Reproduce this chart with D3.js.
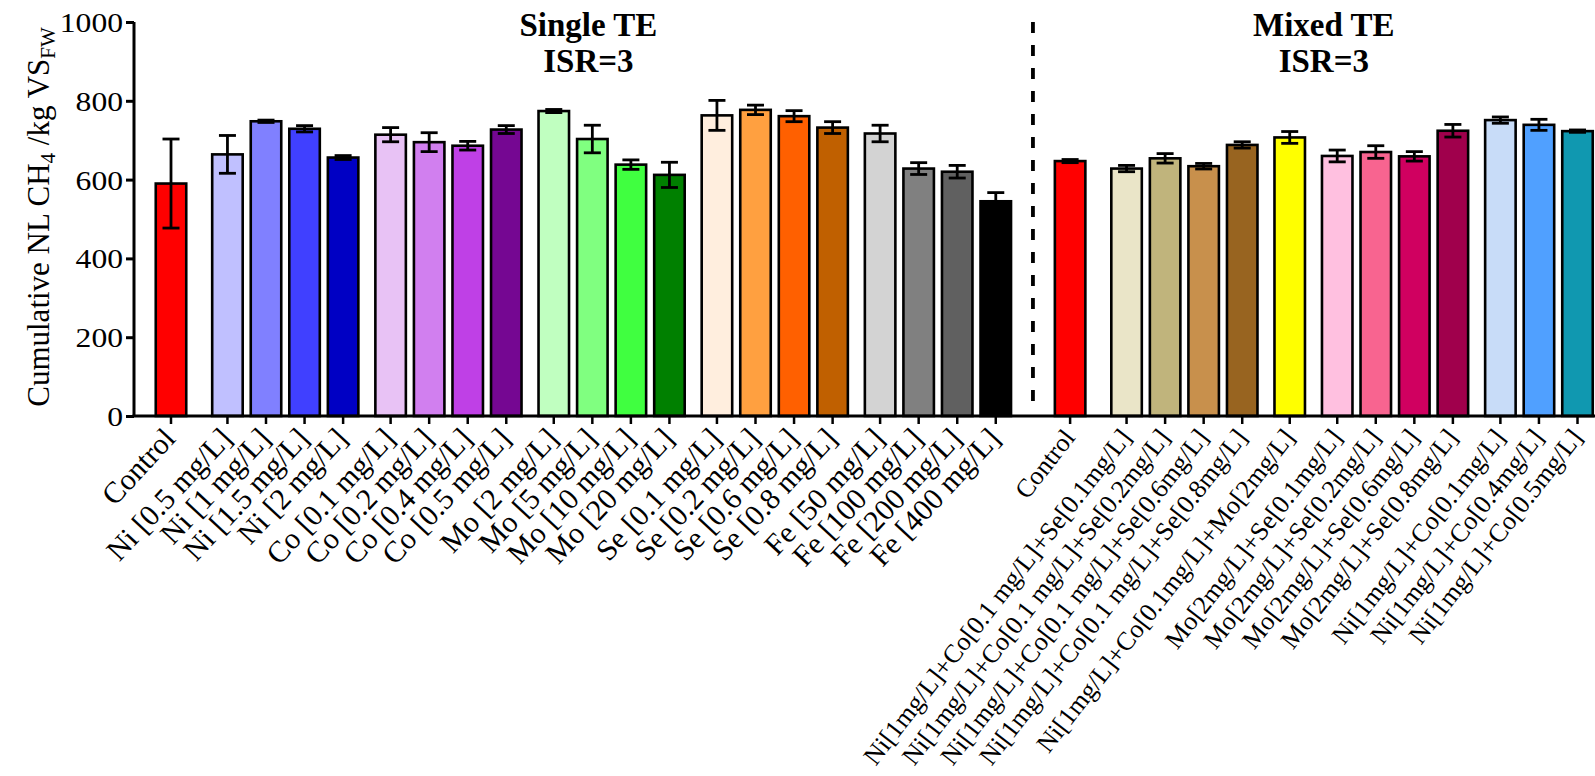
<!DOCTYPE html>
<html>
<head>
<meta charset="utf-8">
<script src="https://cdn.jsdelivr.net/npm/d3@7"></script>
<style>
  html, body { margin: 0; padding: 0; background: #fff; }
  svg { display: block; font-family: "Liberation Serif", "Times New Roman", serif; }
</style>
</head>
<body>
<svg id="chart" width="1595" height="776"></svg>
<script>
// ---------------- DATA ----------------
const categories = [
  "Control", "Ni [0.5 mg/L]", "Ni [1 mg/L]", "Ni [1.5 mg/L]", "Ni [2 mg/L]",
  "Co [0.1 mg/L]", "Co [0.2 mg/L]", "Co [0.4 mg/L]", "Co [0.5 mg/L]",
  "Mo [2 mg/L]", "Mo [5 mg/L]", "Mo [10 mg/L]", "Mo [20 mg/L]",
  "Se [0.1 mg/L]", "Se [0.2 mg/L]", "Se [0.6 mg/L]", "Se [0.8 mg/L]",
  "Fe [50 mg/L]", "Fe [100 mg/L]", "Fe [200 mg/L]", "Fe [400 mg/L]",
  "Control",
  "Ni[1mg/L]+Co[0.1 mg/L]+Se[0.1mg/L]", "Ni[1mg/L]+Co[0.1 mg/L]+Se[0.2mg/L]",
  "Ni[1mg/L]+Co[0.1 mg/L]+Se[0.6mg/L]", "Ni[1mg/L]+Co[0.1 mg/L]+Se[0.8mg/L]",
  "Ni[1mg/L]+Co[0.1mg/L]+Mo[2mg/L]",
  "Mo[2mg/L]+Se[0.1mg/L]", "Mo[2mg/L]+Se[0.2mg/L]", "Mo[2mg/L]+Se[0.6mg/L]", "Mo[2mg/L]+Se[0.8mg/L]",
  "Ni[1mg/L]+Co[0.1mg/L]", "Ni[1mg/L]+Co[0.4mg/L]", "Ni[1mg/L]+Co[0.5mg/L]"
];
const values = [
  590, 664, 748, 729, 656,
  714, 695, 686, 727,
  774, 703, 638, 612,
  763, 777, 761, 732,
  717, 628, 620, 545,
  647,
  628, 654, 634, 688,
  707,
  660, 670, 659, 724,
  751, 739, 723
];
const errors = [
  113, 48, 3, 8, 5,
  18, 24, 11, 10,
  4, 35, 12, 32,
  38, 12, 14, 15,
  21, 15, 16, 22,
  4,
  8, 12, 7, 8,
  15,
  15, 16, 12, 16,
  8, 14, 3
];
const colors = [
  "#FF0000", "#C0C0FF", "#8080FF", "#4040FF", "#0000C4",
  "#E8C2F5", "#D17FEF", "#BF40E6", "#750792",
  "#C0FFC0", "#80FF80", "#40FF40", "#008000",
  "#FFEEDE", "#FFA040", "#FF6000", "#C06000",
  "#D3D3D3", "#808080", "#606060", "#000000",
  "#FF0000",
  "#EAE5C8", "#C0B47C", "#C8904C", "#986420",
  "#FFFF00",
  "#FFC0E0", "#F86490", "#D00060", "#A0004C",
  "#C8DCF8", "#50A0FF", "#1098B0"
];
// extra spacing units placed before each bar (group separation)
const gapBefore = [
  0, 2, 0, 0, 0,
  1, 0, 0, 0,
  1, 0, 0, 0,
  1, 0, 0, 0,
  1, 0, 0, 0,
  4,
  2, 0, 0, 0,
  1,
  1, 0, 0, 0,
  1, 0, 0
];
const yTicks = [0, 200, 400, 600, 800, 1000];
const panelTitles = [["Single TE", "ISR=3"], ["Mixed TE", "ISR=3"]];
const nSingle = 21;

// ---------------- LAYOUT ----------------
const svg = d3.select("#chart");
const axisY0 = 416, axisYTop = 22, axisX = 134;
const gapRatio = 0.232;
let cum = 0;
const slots = values.map((v, i) => { cum += gapBefore[i]; return i + gapRatio * cum; });
const x = d3.scaleLinear().domain([0, slots[slots.length - 1]]).range([171, 1577.5]);
const y = d3.scaleLinear().domain([0, 1000]).range([axisY0, axisYTop]);

const data = values.map((v, i) => ({ i, v, e: errors[i], c: colors[i], label: categories[i], xs: x(slots[i]) }));

const barW = 30.5, capW = 17;

// bars
svg.append("g").selectAll("rect").data(data).join("rect")
  .attr("x", d => d.xs - barW / 2)
  .attr("y", d => y(d.v))
  .attr("width", barW)
  .attr("height", d => y(0) - y(d.v))
  .attr("fill", d => d.c)
  .attr("stroke", "#000")
  .attr("stroke-width", 2.6);

// error bars
const eg = svg.append("g").attr("stroke", "#000").attr("stroke-width", 2.8);
data.forEach(d => {
  eg.append("line").attr("x1", d.xs).attr("x2", d.xs).attr("y1", y(d.v - d.e)).attr("y2", y(d.v + d.e));
  eg.append("line").attr("x1", d.xs - capW / 2).attr("x2", d.xs + capW / 2).attr("y1", y(d.v + d.e)).attr("y2", y(d.v + d.e));
  eg.append("line").attr("x1", d.xs - capW / 2).attr("x2", d.xs + capW / 2).attr("y1", y(d.v - d.e)).attr("y2", y(d.v - d.e));
});

// y axis
const yAxis = d3.axisLeft(y).tickValues(yTicks).tickSize(8).tickPadding(4).tickFormat(d3.format("d"));
const yg = svg.append("g").attr("transform", `translate(${axisX},0)`).call(yAxis);
yg.select(".domain").attr("stroke", "#000").attr("stroke-width", 3).attr("d", `M0,${axisYTop}V${axisY0}`);
yg.selectAll(".tick line").attr("stroke", "#000").attr("stroke-width", 3);
yg.selectAll(".tick text").attr("font-size", 28).attr("fill", "#000")
  .attr("font-family", "Liberation Serif, serif").attr("dy", "0.34em")
  .attr("x", -11 / 1.13)
  .attr("transform", "scale(1.13,1)");

// x axis
const xg = svg.append("g");
xg.append("line").attr("x1", axisX - 1.5).attr("x2", 1595).attr("y1", axisY0).attr("y2", axisY0)
  .attr("stroke", "#000").attr("stroke-width", 3);
xg.selectAll("line.tk").data(data).join("line").attr("class", "tk")
  .attr("x1", d => d.xs).attr("x2", d => d.xs).attr("y1", axisY0).attr("y2", axisY0 + 8)
  .attr("stroke", "#000").attr("stroke-width", 2.5);
xg.selectAll("text").data(data).join("text")
  .attr("transform", d => d.i < nSingle
      ? `translate(${d.xs + 6},${axisY0 + 24}) rotate(-47)`
      : `translate(${d.xs + 6},${axisY0 + 22}) rotate(-52)`)
  .attr("text-anchor", "end")
  .attr("font-size", d => d.i < nSingle ? 30 : 26)
  .attr("fill", "#000")
  .text(d => d.label);

// dashed separator
const sepX = (x(slots[nSingle - 1]) + x(slots[nSingle])) / 2;
svg.append("line").attr("x1", sepX).attr("x2", sepX).attr("y1", y(1000)).attr("y2", axisY0 - 6)
  .attr("stroke", "#000").attr("stroke-width", 3.8).attr("stroke-dasharray", "11,12");

// panel titles
const groupsCenter = [
  (x(slots[0]) + x(slots[nSingle - 1])) / 2 + 5,
  (x(slots[nSingle]) + x(slots[slots.length - 1])) / 2
];
panelTitles.forEach((t, k) => {
  const tt = svg.append("text").attr("text-anchor", "middle").attr("font-weight", "bold")
    .attr("font-size", 33).attr("fill", "#000");
  tt.append("tspan").attr("x", groupsCenter[k]).attr("y", 36).text(t[0]);
  tt.append("tspan").attr("x", groupsCenter[k]).attr("y", 72).text(t[1]);
});

// y axis label
const yl = svg.append("text").attr("transform", `translate(49,${(axisYTop + axisY0) / 2 - 2}) rotate(-90)`)
  .attr("text-anchor", "middle").attr("font-size", 31).attr("fill", "#000");
yl.append("tspan").text("Cumulative NL CH");
yl.append("tspan").attr("font-size", 21).attr("dy", 6).text("4");
yl.append("tspan").attr("dy", -6).text(" /kg VS");
yl.append("tspan").attr("font-size", 21).attr("dy", 6).text("FW");
</script>
</body>
</html>
